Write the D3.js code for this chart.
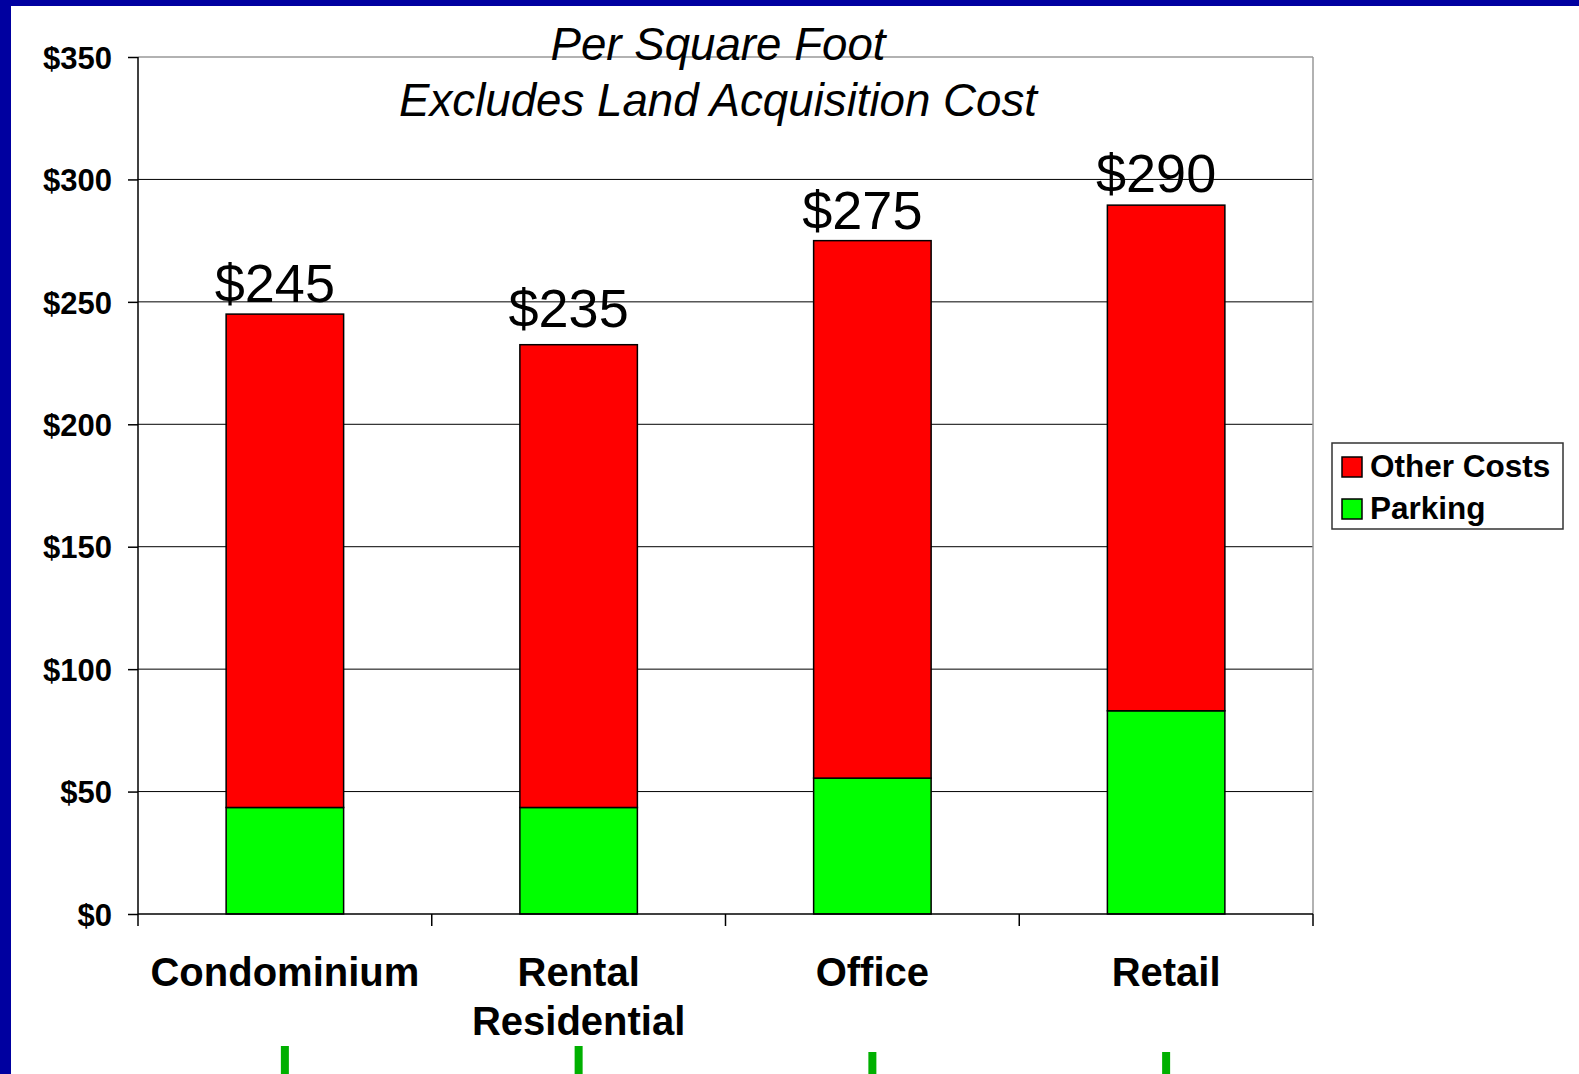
<!DOCTYPE html>
<html>
<head>
<meta charset="utf-8">
<script src="https://cdn.jsdelivr.net/npm/d3@7"></script>
<style>
  html, body { margin: 0; padding: 0; background: #0000A0; }
  #chart { width: 1579px; height: 1074px; }
  svg { display: block; }
  text { font-family: "Liberation Sans", Arial, sans-serif; }
</style>
</head>
<body>
<div id="chart"></div>
<script>
// chart values
const categories = [["Condominium"], ["Rental", "Residential"], ["Office"], ["Retail"]];
const parking = [43.5, 43.5, 55.5, 83];
const otherCosts = [201.5, 189, 219.5, 206.5];
const totalLabels = [245, 235, 275, 290];
const yTicks = [0, 50, 100, 150, 200, 250, 300, 350];
const titleLines = ["Per Square Foot", "Excludes Land Acquisition Cost"];
const seriesNames = ["Other Costs", "Parking"];
const seriesColors = ["#FF0000", "#00FF00"];

document.addEventListener('DOMContentLoaded', function() {
    const width = 1579, height = 1074;
    const svg = d3.select('#chart').append('svg')
        .attr('width', width)
        .attr('height', height);

    // slide background: blue frame on left and top
    svg.append('rect').attr('x', 0).attr('y', 0).attr('width', width).attr('height', height).attr('fill', '#0000A0');
    svg.append('rect').attr('x', 11).attr('y', 6).attr('width', width - 11).attr('height', height - 6).attr('fill', '#fff');

    const plot = { left: 138, right: 1313, top: 57, bottom: 914 };

    const x = d3.scaleBand()
        .domain(d3.range(categories.length))
        .range([plot.left, plot.right])
        .paddingInner(0.6)
        .paddingOuter(0.3);
    const band = (plot.right - plot.left) / categories.length;

    const y = d3.scaleLinear().domain([0, 350]).range([plot.bottom, plot.top]);

    // gridlines
    svg.append('g').selectAll('line')
        .data(yTicks.filter(t => t > 0 && t < 350))
        .enter().append('line')
        .attr('x1', plot.left).attr('x2', plot.right)
        .attr('y1', d => y(d)).attr('y2', d => y(d))
        .attr('stroke', '#000').attr('stroke-width', 1);

    // plot border top / right
    svg.append('line').attr('x1', plot.left).attr('x2', plot.right)
        .attr('y1', plot.top).attr('y2', plot.top)
        .attr('stroke', '#999').attr('stroke-width', 1.5);
    svg.append('line').attr('x1', plot.right).attr('x2', plot.right)
        .attr('y1', plot.top).attr('y2', plot.bottom)
        .attr('stroke', '#999').attr('stroke-width', 1.5);

    // stacked bars
    const stackData = categories.map((c, i) => ({ i: i, other: otherCosts[i], parking: parking[i] }));
    const stacked = d3.stack().keys(['parking', 'other'])(stackData);
    const colorFor = { parking: seriesColors[1], other: seriesColors[0] };

    svg.append('g').selectAll('g')
        .data(stacked)
        .enter().append('g')
        .attr('fill', d => colorFor[d.key])
        .selectAll('rect')
        .data(d => d)
        .enter().append('rect')
        .attr('x', d => x(d.data.i))
        .attr('width', x.bandwidth())
        .attr('y', d => y(d[1]))
        .attr('height', d => y(d[0]) - y(d[1]))
        .attr('stroke', '#000')
        .attr('stroke-width', 1.5);

    // axes
    const yAxis = svg.append('g')
        .attr('transform', `translate(${plot.left},0)`)
        .call(d3.axisLeft(y).tickValues(yTicks).tickSize(10).tickFormat(d => '$' + d));
    yAxis.select('.domain').attr('stroke', '#000').attr('stroke-width', 1.5).attr('d', `M0,${plot.top}V${plot.bottom}`);
    yAxis.selectAll('.tick line').attr('stroke', '#000').attr('stroke-width', 1.5);
    yAxis.selectAll('.tick text')
        .attr('x', -26)
        .attr('dy', '0.36em')
        .attr('fill', '#000')
        .style('font-family', '"Liberation Sans", Arial, sans-serif')
        .style('font-size', '31px')
        .style('font-weight', 'bold');

    const xAxis = svg.append('g');
    xAxis.append('line').attr('x1', plot.left).attr('x2', plot.right)
        .attr('y1', plot.bottom).attr('y2', plot.bottom)
        .attr('stroke', '#000').attr('stroke-width', 1.5);
    xAxis.selectAll('line.tick')
        .data(d3.range(categories.length + 1))
        .enter().append('line')
        .attr('class', 'tick')
        .attr('x1', d => plot.left + d * band).attr('x2', d => plot.left + d * band)
        .attr('y1', plot.bottom).attr('y2', plot.bottom + 12)
        .attr('stroke', '#000').attr('stroke-width', 1.5);

    const xLabels = xAxis.selectAll('text.cat')
        .data(categories)
        .enter().append('text')
        .attr('class', 'cat')
        .attr('x', (d, i) => x(i) + x.bandwidth() / 2)
        .attr('y', 986)
        .attr('text-anchor', 'middle')
        .attr('font-size', 40)
        .attr('font-weight', 'bold')
        .attr('fill', '#000');
    xLabels.selectAll('tspan')
        .data(d => d)
        .enter().append('tspan')
        .attr('x', function() { return d3.select(this.parentNode).attr('x'); })
        .attr('dy', (d, j) => j === 0 ? 0 : 49)
        .text(d => d);

    // total labels above the bars
    svg.append('g').selectAll('text')
        .data(totalLabels)
        .enter().append('text')
        .attr('x', (d, i) => x(i) + x.bandwidth() / 2 - 10)
        .attr('y', d => y(d) - 12)
        .attr('text-anchor', 'middle')
        .attr('font-size', 54)
        .attr('fill', '#000')
        .text(d => '$' + d);

    // title
    svg.append('g').selectAll('text')
        .data(titleLines)
        .enter().append('text')
        .attr('x', 718)
        .attr('y', (d, i) => 60 + i * 56)
        .attr('text-anchor', 'middle')
        .attr('font-size', 46)
        .attr('font-style', 'italic')
        .attr('fill', '#000')
        .attr('textLength', (d, i) => i === 0 ? 335 : 638)
        .attr('lengthAdjust', 'spacingAndGlyphs')
        .text(d => d);

    // legend
    const legend = svg.append('g').attr('transform', 'translate(1332,443)');
    legend.append('rect').attr('width', 231).attr('height', 86)
        .attr('fill', '#fff').attr('stroke', '#333').attr('stroke-width', 1.5);
    const items = legend.selectAll('g')
        .data(seriesNames)
        .enter().append('g')
        .attr('transform', (d, i) => `translate(10,${14 + i * 42})`);
    items.append('rect').attr('width', 20).attr('height', 20)
        .attr('fill', (d, i) => seriesColors[i])
        .attr('stroke', '#000').attr('stroke-width', 1.5);
    items.append('text').attr('x', 28).attr('y', 20)
        .attr('font-size', 31.5).attr('font-weight', 'bold')
        .attr('fill', '#000')
        .text(d => d);

    // green marks of the slide below each category
    svg.append('g').selectAll('rect')
        .data(categories)
        .enter().append('rect')
        .attr('x', (d, i) => x(i) + x.bandwidth() / 2 - 4)
        .attr('y', (d, i) => i < 2 ? 1046 : 1052)
        .attr('width', 8)
        .attr('height', 30)
        .attr('fill', '#00B000');
});
</script>
</body>
</html>
